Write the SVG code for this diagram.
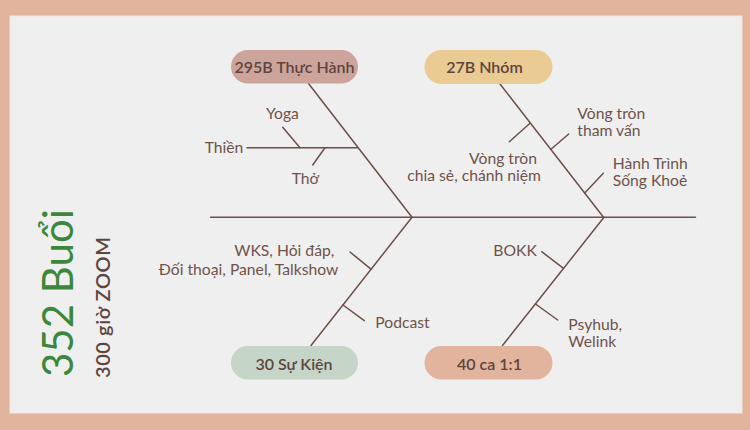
<svg xmlns="http://www.w3.org/2000/svg" width="750" height="430" viewBox="0 0 750 430">
<style>
.ln{stroke:#6E4F48;stroke-width:1.5;fill:none;stroke-linecap:round}
.lb{font-family:Lato,"Liberation Sans",sans-serif;font-size:15.7px;fill:#6F534B}
.pt{font-family:Lato,"Liberation Sans",sans-serif;font-size:16px;font-weight:600;fill:#5E443E;text-anchor:middle}
</style>
<rect x="0" y="0" width="750" height="430" fill="#E2B49D"/>
<rect x="10" y="16" width="732" height="397" fill="#EFEFEF" stroke="#F3E6DE" stroke-width="1"/>
<g id="title">
<text transform="translate(73,377) rotate(-90)" font-family="Lato,'Liberation Sans',sans-serif" font-size="42" fill="#3B873B">352 Buổi</text>
<text transform="translate(110,378) rotate(-90)" font-family="Lato,'Liberation Sans',sans-serif" font-size="20" font-weight="600" fill="#5E443E" textLength="141" lengthAdjust="spacing">300 giờ ZOOM</text>
</g>
<g id="connectors">
<line class="ln" x1="210.5" y1="217.3" x2="695.5" y2="217.3"/>
<line class="ln" x1="308.5" y1="83.5" x2="412" y2="217.3"/>
<line class="ln" x1="500" y1="84" x2="603.5" y2="217.3"/>
<line class="ln" x1="412" y1="217.3" x2="311" y2="345.5"/>
<line class="ln" x1="604" y1="217.3" x2="502.5" y2="345.5"/>
<line class="ln" x1="247" y1="147.7" x2="357.5" y2="147.7"/>
<line class="ln" x1="282.7" y1="127.3" x2="300" y2="147.7"/>
<line class="ln" x1="325" y1="147.7" x2="312.7" y2="165"/>
<line class="ln" x1="530" y1="123.3" x2="509.3" y2="141.7"/>
<line class="ln" x1="551" y1="149.3" x2="568.7" y2="134"/>
<line class="ln" x1="585" y1="192.7" x2="603.3" y2="173.3"/>
<line class="ln" x1="350" y1="252" x2="371.3" y2="269.3"/>
<line class="ln" x1="343" y1="305" x2="364.3" y2="320.7"/>
<line class="ln" x1="541.7" y1="251.7" x2="563.5" y2="268.3"/>
<line class="ln" x1="535.5" y1="304" x2="557.7" y2="320"/>
</g>
<g id="n-thuchanh">
<rect x="231" y="50" width="127" height="33.5" rx="16.75" fill="#CDA49C"/>
<text class="pt" x="294.5" y="73">295B Thực Hành</text>
</g>
<g id="n-nhom">
<rect x="424.5" y="50" width="128" height="34" rx="17" fill="#E9CB93"/>
<text class="pt" x="484.5" y="73">27B Nhóm</text>
</g>
<g id="n-sukien">
<rect x="231" y="346" width="127" height="33.5" rx="16.75" fill="#C5D5C8"/>
<text class="pt" x="294" y="369.5">30 Sự Kiện</text>
</g>
<g id="n-ca">
<rect x="424.5" y="346" width="128" height="33.5" rx="16.75" fill="#E2B49D"/>
<text class="pt" x="489.5" y="369.5">40 ca 1:1</text>
</g>
<g id="labels">
<text class="lb" x="266" y="119">Yoga</text>
<text class="lb" x="204.7" y="153">Thiền</text>
<text class="lb" x="291.7" y="184">Thở</text>
<text class="lb" x="537" y="164" text-anchor="end">Vòng tròn</text>
<text class="lb" x="541" y="180.7" text-anchor="end">chia sẻ, chánh niệm</text>
<text class="lb" x="577.3" y="119.3">Vòng tròn</text>
<text class="lb" x="577.3" y="136">tham vấn</text>
<text class="lb" x="612.7" y="169">Hành Trình</text>
<text class="lb" x="612.7" y="185.7">Sống Khoẻ</text>
<text class="lb" x="334.3" y="255.5" text-anchor="end">WKS, Hỏi đáp,</text>
<text class="lb" x="338.3" y="274.8" text-anchor="end">Đối thoại, Panel, Talkshow</text>
<text class="lb" x="375.3" y="328.3">Podcast</text>
<text class="lb" x="493.3" y="255.7">BOKK</text>
<text class="lb" x="568.3" y="330">Psyhub,</text>
<text class="lb" x="568.3" y="346.7">Welink</text>
</g>
</svg>
